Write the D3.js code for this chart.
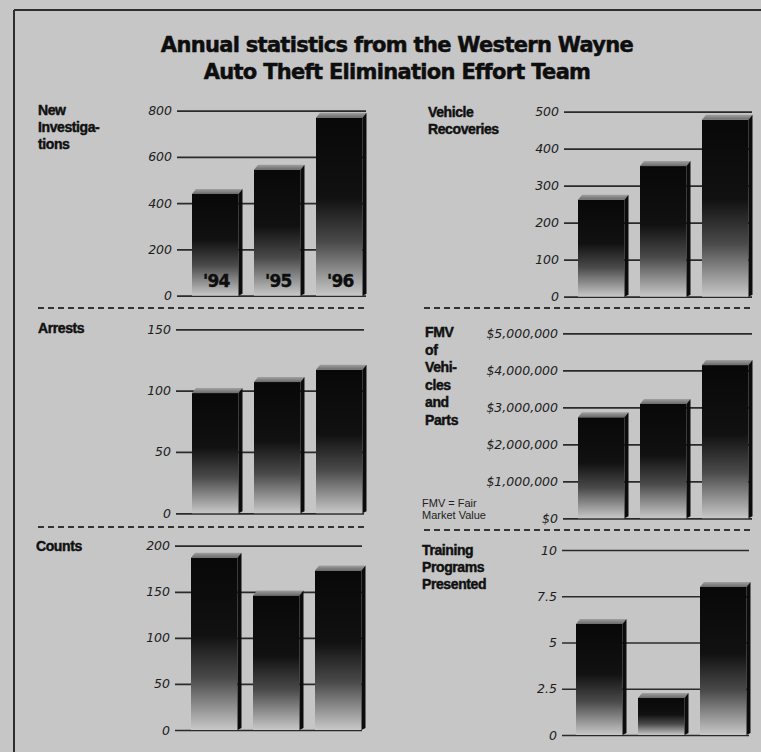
<!DOCTYPE html>
<html>
<head>
<meta charset="utf-8">
<script src="https://cdn.jsdelivr.net/npm/d3@7"></script>
<style>
  html, body { margin: 0; padding: 0; background: #c6c6c6; }
  svg { display: block; }
  .tick text { font-family: "DejaVu Sans", sans-serif; font-style: italic; font-size: 12.5px; fill: #1c1c1c; }
  .tick line { stroke: #2a2a2a; stroke-width: 1.7; }
  .plabel { font-family: "Liberation Sans", Arial, sans-serif; font-weight: bold; font-size: 14px; fill: #111; stroke: #111; stroke-width: 0.45px; letter-spacing: -0.4px; }
  .title { font-family: "DejaVu Sans", sans-serif; font-weight: bold; font-size: 21px; fill: #0e0e0e; stroke: #0e0e0e; stroke-width: 0.5px; letter-spacing: -0.7px; }
  .note { font-family: "Liberation Sans", Arial, sans-serif; font-size: 11px; fill: #222; }
  .yr { font-family: "DejaVu Sans", sans-serif; font-weight: bold; font-size: 17px; fill: #0e0e0e; stroke: #0e0e0e; stroke-width: 0.4px; letter-spacing: -0.8px; }
</style>
</head>
<body>
<script>
// ---- data ----
const years = ["'94", "'95", "'96"];
const titleLines = ["Annual statistics from the Western Wayne", "Auto Theft Elimination Effort Team"];

const investigations = [440, 545, 770];
const recoveries = [262, 353, 478];
const arrests = [98, 107, 117];
const counts = [187, 146, 173];
const fmv = [2730000, 3090000, 4140000];
const training = [6, 2, 8];

const investigationTicks = [0, 200, 400, 600, 800];
const recoveryTicks = [0, 100, 200, 300, 400, 500];
const arrestTicks = [0, 50, 100, 150];
const countTicks = [0, 50, 100, 150, 200];
const fmvTicks = [0, 1000000, 2000000, 3000000, 4000000, 5000000];
const trainingTicks = [0, 2.5, 5, 7.5, 10];

const investigationLabel = ["New", "Investiga-", "tions"];
const recoveryLabel = ["Vehicle", "Recoveries"];
const arrestLabel = ["Arrests"];
const countLabel = ["Counts"];
const fmvLabel = ["FMV", "of", "Vehi-", "cles", "and", "Parts"];
const trainingLabel = ["Training", "Programs", "Presented"];
const fmvNote = ["FMV = Fair", "Market Value"];

// ---- layout ----
const W = 761, H = 752;
const svg = d3.select("body").append("svg").attr("width", W).attr("height", H);

svg.append("rect").attr("width", W).attr("height", H).attr("fill", "#c6c6c6");

const defs = svg.append("defs");
const grad = defs.append("linearGradient").attr("id", "barGrad")
  .attr("x1", 0).attr("y1", 0).attr("x2", 0).attr("y2", 1);
[[0, "#080808"], [0.45, "#111111"], [0.7, "#4a4a4a"], [1, "#c8c8c8"]].forEach(([o, c]) =>
  grad.append("stop").attr("offset", o).attr("stop-color", c));
const capGrad = defs.append("linearGradient").attr("id", "capGrad")
  .attr("x1", 0).attr("y1", 0).attr("x2", 0).attr("y2", 1);
[[0, "#a0a0a0"], [1, "#6a6a6a"]].forEach(([o, c]) =>
  capGrad.append("stop").attr("offset", o).attr("stop-color", c));

// frame
svg.append("line").attr("x1", 14).attr("y1", 10).attr("x2", W).attr("y2", 10)
  .attr("stroke", "#2e2e2e").attr("stroke-width", 2);
svg.append("line").attr("x1", 14).attr("y1", 10).attr("x2", 14).attr("y2", H)
  .attr("stroke", "#2e2e2e").attr("stroke-width", 2);

// title
svg.selectAll("text.title").data(titleLines).join("text")
  .attr("class", "title").attr("text-anchor", "middle")
  .attr("x", 397).attr("y", (d, i) => 52 + i * 27).text(d => d);

// separators
const seps = [
  [38, 366, 308], [424, 752, 308],
  [38, 364, 527], [424, 752, 530]
];
seps.forEach(([x1, x2, y]) => svg.append("line")
  .attr("x1", x1).attr("x2", x2).attr("y1", y).attr("y2", y)
  .attr("stroke", "#333").attr("stroke-width", 2).attr("stroke-dasharray", "6,4"));

function panel(cfg) {
  const y = d3.scaleLinear().domain([0, cfg.max]).range([cfg.y0, cfg.y1]);
  const x = d3.scaleBand().domain(years).range([cfg.bx0, cfg.bx0 + 186])
    .paddingInner(0.25).paddingOuter(0.125);
  const g = svg.append("g");

  const axis = d3.axisLeft(y).tickValues(cfg.ticks)
    .tickSize(-(cfg.gx1 - cfg.gx0)).tickPadding(5)
    .tickFormat(cfg.fmt || (d => d));
  const ag = g.append("g").attr("transform", `translate(${cfg.gx0},0)`).call(axis);
  ag.select(".domain").remove();

  const d = 4, dy = 5;
  const bars = g.selectAll("g.bar").data(cfg.values).join("g").attr("class", "bar");
  bars.append("rect")
    .attr("x", (v, i) => x(years[i])).attr("y", v => y(v))
    .attr("width", x.bandwidth()).attr("height", v => y(0) - y(v))
    .attr("fill", "url(#barGrad)");
  bars.append("path")
    .attr("d", (v, i) => {
      const x0 = x(years[i]), x1 = x0 + x.bandwidth(), t = y(v);
      return `M${x0},${t}L${x0 + d},${t - dy}L${x1 + d},${t - dy}L${x1},${t}Z`;
    }).attr("fill", "url(#capGrad)");
  bars.append("path")
    .attr("d", (v, i) => {
      const x1 = x(years[i]) + x.bandwidth(), t = y(v), b = y(0);
      return `M${x1},${t}L${x1 + d},${t - dy}L${x1 + d},${b - 2}L${x1},${b}Z`;
    }).attr("fill", "#0c0c0c");

  if (cfg.yearLabels) {
    g.selectAll("text.yr").data(years).join("text").attr("class", "yr")
      .attr("text-anchor", "middle")
      .attr("x", yr => x(yr) + x.bandwidth() / 2 + 1).attr("y", y(0) - 9).text(yr => yr);
  }

  g.selectAll("text.plabel").data(cfg.label).join("text").attr("class", "plabel")
    .attr("x", cfg.lx).attr("y", (t, i) => cfg.ly + i * cfg.lh).text(t => t);
}

const dollar = d3.format("$,");

panel({ values: investigations, ticks: investigationTicks, max: 800, y0: 295.7, y1: 110.7,
  gx0: 177, gx1: 366, bx0: 184.25, label: investigationLabel, lx: 38, ly: 115, lh: 17, yearLabels: true });
panel({ values: recoveries, ticks: recoveryTicks, max: 500, y0: 296.7, y1: 111.7,
  gx0: 564, gx1: 752, bx0: 570.25, label: recoveryLabel, lx: 428, ly: 117, lh: 16.5 });
panel({ values: arrests, ticks: arrestTicks, max: 150, y0: 513.3, y1: 329.3,
  gx0: 176, gx1: 364, bx0: 184.25, label: arrestLabel, lx: 38, ly: 333, lh: 17 });
panel({ values: fmv, ticks: fmvTicks, max: 5000000, y0: 518.3, y1: 333.3,
  gx0: 563, gx1: 752, bx0: 570.25, label: fmvLabel, lx: 425, ly: 337, lh: 17.5, fmt: dollar });
panel({ values: counts, ticks: countTicks, max: 200, y0: 730, y1: 545.7,
  gx0: 175, gx1: 362, bx0: 183.25, label: countLabel, lx: 36, ly: 551, lh: 17 });
panel({ values: training, ticks: trainingTicks, max: 10, y0: 735, y1: 550,
  gx0: 562, gx1: 749, bx0: 568.25, label: trainingLabel, lx: 422, ly: 555, lh: 17 });

svg.selectAll("text.note").data(fmvNote).join("text").attr("class", "note")
  .attr("x", 422).attr("y", (t, i) => 507 + i * 11.5).text(t => t);
</script>
</body>
</html>
